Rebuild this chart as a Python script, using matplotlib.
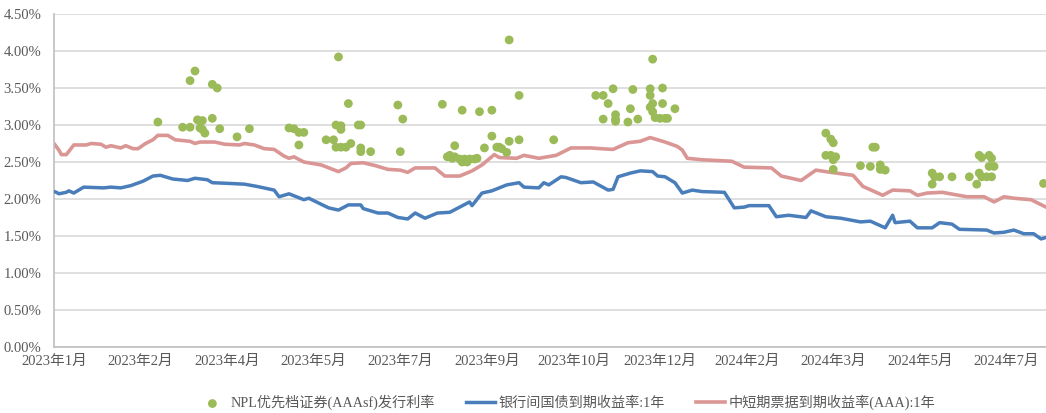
import matplotlib
matplotlib.use('Agg')
import matplotlib.pyplot as plt
from matplotlib.ticker import FuncFormatter

# x is a trading-day index (category axis), labels every 35 points
tick_labels = ['2023年1月', '2023年2月', '2023年4月', '2023年5月', '2023年7月', '2023年9月',
               '2023年10月', '2023年12月', '2024年2月', '2024年3月', '2024年5月', '2024年7月']
n_points = 401

# 银行间国债到期收益率:1年 (%)
gov_x = [0, 1, 2, 5, 6, 8, 12, 20, 23, 27, 31, 36, 40, 43, 48, 54, 57, 62, 64, 71, 77, 82,
         89, 91, 95, 101, 103, 111, 115, 119, 124, 125, 131, 135, 139, 143, 146, 150, 155,
         160, 164, 168, 169, 173, 177, 183, 188, 190, 196, 198, 200, 205, 207, 213, 218,
         224, 226, 228, 233, 237, 242, 244, 247, 251, 254, 258, 262, 271, 275, 279, 281,
         289, 292, 297, 304, 306, 312, 318, 326, 330, 336, 339, 340, 346, 349, 355, 358,
         363, 366, 377, 380, 384, 388, 392, 396, 399, 401]
gov_y = [2.10, 2.09, 2.07, 2.09, 2.11, 2.08, 2.16, 2.15, 2.16, 2.15, 2.18, 2.24, 2.31, 2.32,
         2.27, 2.25, 2.28, 2.26, 2.22, 2.21, 2.20, 2.17, 2.12, 2.03, 2.07, 1.99, 2.01, 1.88,
         1.85, 1.92, 1.92, 1.87, 1.81, 1.81, 1.75, 1.73, 1.81, 1.74, 1.81, 1.82, 1.89, 1.96,
         1.91, 2.08, 2.11, 2.19, 2.22, 2.16, 2.15, 2.22, 2.19, 2.30, 2.29, 2.22, 2.23, 2.12,
         2.13, 2.30, 2.35, 2.38, 2.37, 2.31, 2.30, 2.22, 2.08, 2.12, 2.10, 2.09, 1.88, 1.89,
         1.91, 1.91, 1.76, 1.78, 1.75, 1.84, 1.76, 1.74, 1.69, 1.70, 1.61, 1.78, 1.68, 1.70,
         1.61, 1.61, 1.68, 1.66, 1.59, 1.58, 1.54, 1.55, 1.58, 1.53, 1.53, 1.46, 1.48]

# 中短期票据到期收益率(AAA):1年 (%)
mtn_x = [0, 2, 3, 5, 8, 13, 15, 19, 21, 23, 27, 29, 32, 34, 37, 40, 42, 46, 49, 55, 57, 59,
         65, 69, 75, 77, 81, 85, 89, 93, 95, 97, 101, 108, 115, 118, 120, 125, 130, 135, 140,
         143, 146, 154, 158, 164, 169, 173, 178, 180, 187, 190, 196, 203, 209, 217, 221, 226,
         232, 237, 241, 247, 252, 254, 256, 262, 274, 279, 290, 294, 302, 308, 314, 323, 327,
         335, 339, 346, 349, 353, 359, 369, 376, 380, 384, 388, 395, 401]
mtn_y = [2.75, 2.66, 2.60, 2.60, 2.73, 2.73, 2.75, 2.74, 2.70, 2.72, 2.69, 2.72, 2.68, 2.68,
         2.75, 2.80, 2.86, 2.86, 2.80, 2.78, 2.75, 2.77, 2.77, 2.74, 2.73, 2.75, 2.73, 2.68,
         2.67, 2.58, 2.55, 2.57, 2.50, 2.46, 2.37, 2.42, 2.48, 2.49, 2.45, 2.40, 2.39, 2.36,
         2.42, 2.42, 2.31, 2.31, 2.38, 2.46, 2.60, 2.56, 2.55, 2.59, 2.55, 2.59, 2.69, 2.69,
         2.68, 2.67, 2.76, 2.78, 2.83, 2.77, 2.71, 2.66, 2.55, 2.53, 2.51, 2.43, 2.42, 2.31,
         2.25, 2.39, 2.36, 2.32, 2.17, 2.05, 2.12, 2.11, 2.05, 2.08, 2.09, 2.03, 2.03, 1.96,
         2.03, 2.01, 1.99, 1.89]

# NPL优先档证券(AAAsf)发行利率 (%)
npl_x = [42, 52, 55, 55, 57, 58, 60, 59, 60, 61, 64, 66, 64, 67, 74, 79,
         95, 97, 99, 99, 101, 110, 113, 114, 115, 114, 116, 116, 116, 119, 118, 120,
         123, 124, 124, 124, 128, 139, 141, 140, 157, 165, 172, 177, 184, 188, 162,
         159, 160, 161, 162, 164, 165, 166, 167, 168, 170, 171, 174, 177, 179, 180,
         181, 183, 184, 188, 202, 219, 222, 224, 226, 222, 227, 227, 227, 232, 233,
         234, 236, 241, 241, 242, 242, 241, 242, 243, 245, 246, 246, 247, 248, 251,
         312, 314, 315, 312, 314, 316, 315, 315, 331, 332, 326, 330, 334, 334, 336,
         355, 356, 358, 355, 363, 370, 374, 375, 378, 379, 378, 380, 374, 375, 377,
         379, 373, 400]
npl_y = [3.04, 2.97, 3.60, 2.97, 3.73, 3.07, 3.06, 2.96, 2.94, 2.89, 3.55, 3.50, 3.09, 2.95,
         2.84, 2.95, 2.96, 2.95, 2.73, 2.90, 2.90, 2.80, 2.80, 2.70, 3.92, 3.00, 2.99, 2.94,
         2.70, 3.29, 2.70, 2.75, 3.00, 3.00, 2.69, 2.64, 2.64, 3.27, 3.08, 2.64, 3.28, 3.20,
         3.18, 3.20, 4.15, 3.40, 2.72, 2.57, 2.59, 2.55, 2.57, 2.54, 2.50, 2.54, 2.50, 2.54,
         2.54, 2.55, 2.69, 2.85, 2.70, 2.70, 2.68, 2.63, 2.78, 2.80, 2.80, 3.40, 3.40, 3.29,
         3.49, 3.08, 3.14, 3.08, 3.05, 3.04, 3.22, 3.48, 3.08, 3.49, 3.40, 3.89, 3.29, 3.24,
         3.18, 3.10, 3.09, 3.50, 3.29, 3.09, 3.09, 3.22, 2.89, 2.81, 2.76, 2.59, 2.59, 2.57,
         2.53, 2.40, 2.70, 2.70, 2.45, 2.44, 2.46, 2.40, 2.39, 2.35, 2.30, 2.30, 2.20, 2.30,
         2.30, 2.59, 2.56, 2.59, 2.55, 2.44, 2.44, 2.35, 2.30, 2.30, 2.30, 2.20, 2.21]

plt.rcParams['font.family'] = ['Liberation Serif', 'Noto Sans CJK SC']
text_color = '#595959'

fig = plt.figure(figsize=(10.46, 4.13), dpi=100)
ax = fig.add_axes([0.0516, 0.160, 0.9484, 0.806])

ax.plot(gov_x, gov_y, color='#4A7EBB', linewidth=2.5, zorder=3, solid_joinstyle='round',
        label='银行间国债到期收益率:1年')
ax.plot(mtn_x, mtn_y, color='#DA9694', linewidth=2.6, zorder=2, solid_joinstyle='round',
        label='中短期票据到期收益率(AAA):1年')
ax.scatter(npl_x, npl_y, s=40, color='#9BBB59', edgecolors='none', zorder=4,
           label='NPL优先档证券(AAAsf)发行利率')

ax.set_xlim(0, n_points)
ax.set_ylim(0, 4.5)
ax.set_yticks([i * 0.5 for i in range(10)])
ax.yaxis.set_major_formatter(FuncFormatter(lambda v, p: '{:.2f}%'.format(v)))
ax.set_xticks([i * 35 for i in range(len(tick_labels))])
ax.set_xticklabels(tick_labels)
ax.tick_params(axis='both', length=0, labelsize=10.5, colors=text_color)
ax.tick_params(axis='x', pad=6)
ax.tick_params(axis='y', pad=9)

ax.grid(axis='y', color='#D9D9D9', linewidth=1.2)
ax.set_axisbelow(True)
for side in ['top', 'right']:
    ax.spines[side].set_visible(False)
ax.spines['left'].set_color('#BFBFBF')
ax.spines['bottom'].set_color('#BFBFBF')
ax.spines['left'].set_linewidth(1.2)
ax.spines['bottom'].set_linewidth(1.2)

handles, labels = ax.get_legend_handles_labels()
order = [2, 0, 1]
leg = fig.legend([handles[i] for i in order], [labels[i] for i in order],
                 loc='center', bbox_to_anchor=(0.542, 0.025), ncol=3, frameon=False,
                 fontsize=10.2, handlelength=2.0, handletextpad=0.3, columnspacing=2.2)
for t in leg.get_texts():
    t.set_color(text_color)

fig.savefig('out.png', dpi=100)
